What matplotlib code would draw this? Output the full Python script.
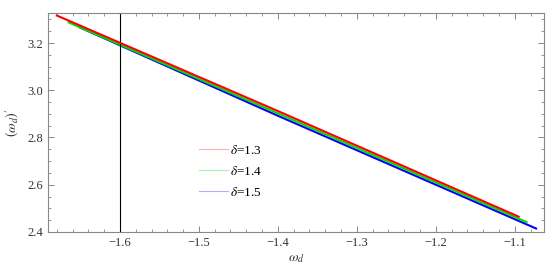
import numpy as np
import matplotlib.pyplot as plt
from matplotlib.ticker import MultipleLocator

# values
x13 = [-1.681, -1.40, -1.094]
y13 = [3.318, 2.912, 2.463]
x14 = [-1.666, -1.40, -1.084]
y14 = [3.289, 2.902, 2.440]
x15 = [-1.652, -1.40, -1.072]
y15 = [3.268, 2.892, 2.413]
labels = [r"$\delta$=1.3", r"$\delta$=1.4", r"$\delta$=1.5"]
vline_x = -1.6

plt.rcParams['font.family'] = ['Liberation Serif', 'DejaVu Serif']
plt.rcParams['mathtext.fontset'] = 'stix'

fig = plt.figure(figsize=(5.5, 2.71), dpi=100)
ax = fig.add_axes([0.0873, 0.144, 0.902, 0.808])

ax.plot(x15, y15, color='#0000ff', lw=1.5, solid_capstyle='butt', zorder=1)
ax.plot(x14, y14, color='#00dd00', lw=1.5, solid_capstyle='butt', zorder=2)
ax.plot(x13, y13, color='#ff0000', lw=1.5, solid_capstyle='butt', zorder=3)
ax.axvline(vline_x, color='black', lw=0.8)

# legend with thin light lines, as in the reference
leg_cols = ['#ffb0b0', '#a8f0a8', '#b0b0ff']
handles = [plt.Line2D([], [], color=c, lw=0.8) for c in leg_cols]
ax.legend(handles, labels, loc='upper left', bbox_to_anchor=(0.285, 0.445),
          frameon=False, fontsize=9.5, handlelength=2.2, handletextpad=0.15,
          labelspacing=0.6, borderpad=0.2)

ax.set_xlim(-1.691, -1.063)
ax.set_ylim(2.4, 3.327)
ax.xaxis.set_major_locator(MultipleLocator(0.1))
ax.xaxis.set_minor_locator(MultipleLocator(0.02))
ax.yaxis.set_major_locator(MultipleLocator(0.2))
ax.yaxis.set_minor_locator(MultipleLocator(0.05))
ax.xaxis.set_major_formatter(plt.FuncFormatter(lambda v, p: ('%.1f' % v).replace('-', '\u2212')))
ax.yaxis.set_major_formatter(plt.FuncFormatter(lambda v, p: '%.1f' % v))

for s in ax.spines.values():
    s.set_color('#888888')
    s.set_linewidth(0.8)
ax.tick_params(which='both', direction='in', top=True, right=True,
               color='#888888', labelsize=9, labelcolor='#333333')
ax.tick_params(which='major', length=4, width=0.7)
ax.tick_params(which='minor', length=2, width=0.6)

ax.set_xlabel(r"$\omega_d$", fontsize=10, color='#333333', labelpad=3)
ax.set_ylabel(r"$(\omega_d)'$", fontsize=10, color='#333333', labelpad=4)

fig.savefig('out.png', dpi=100)
